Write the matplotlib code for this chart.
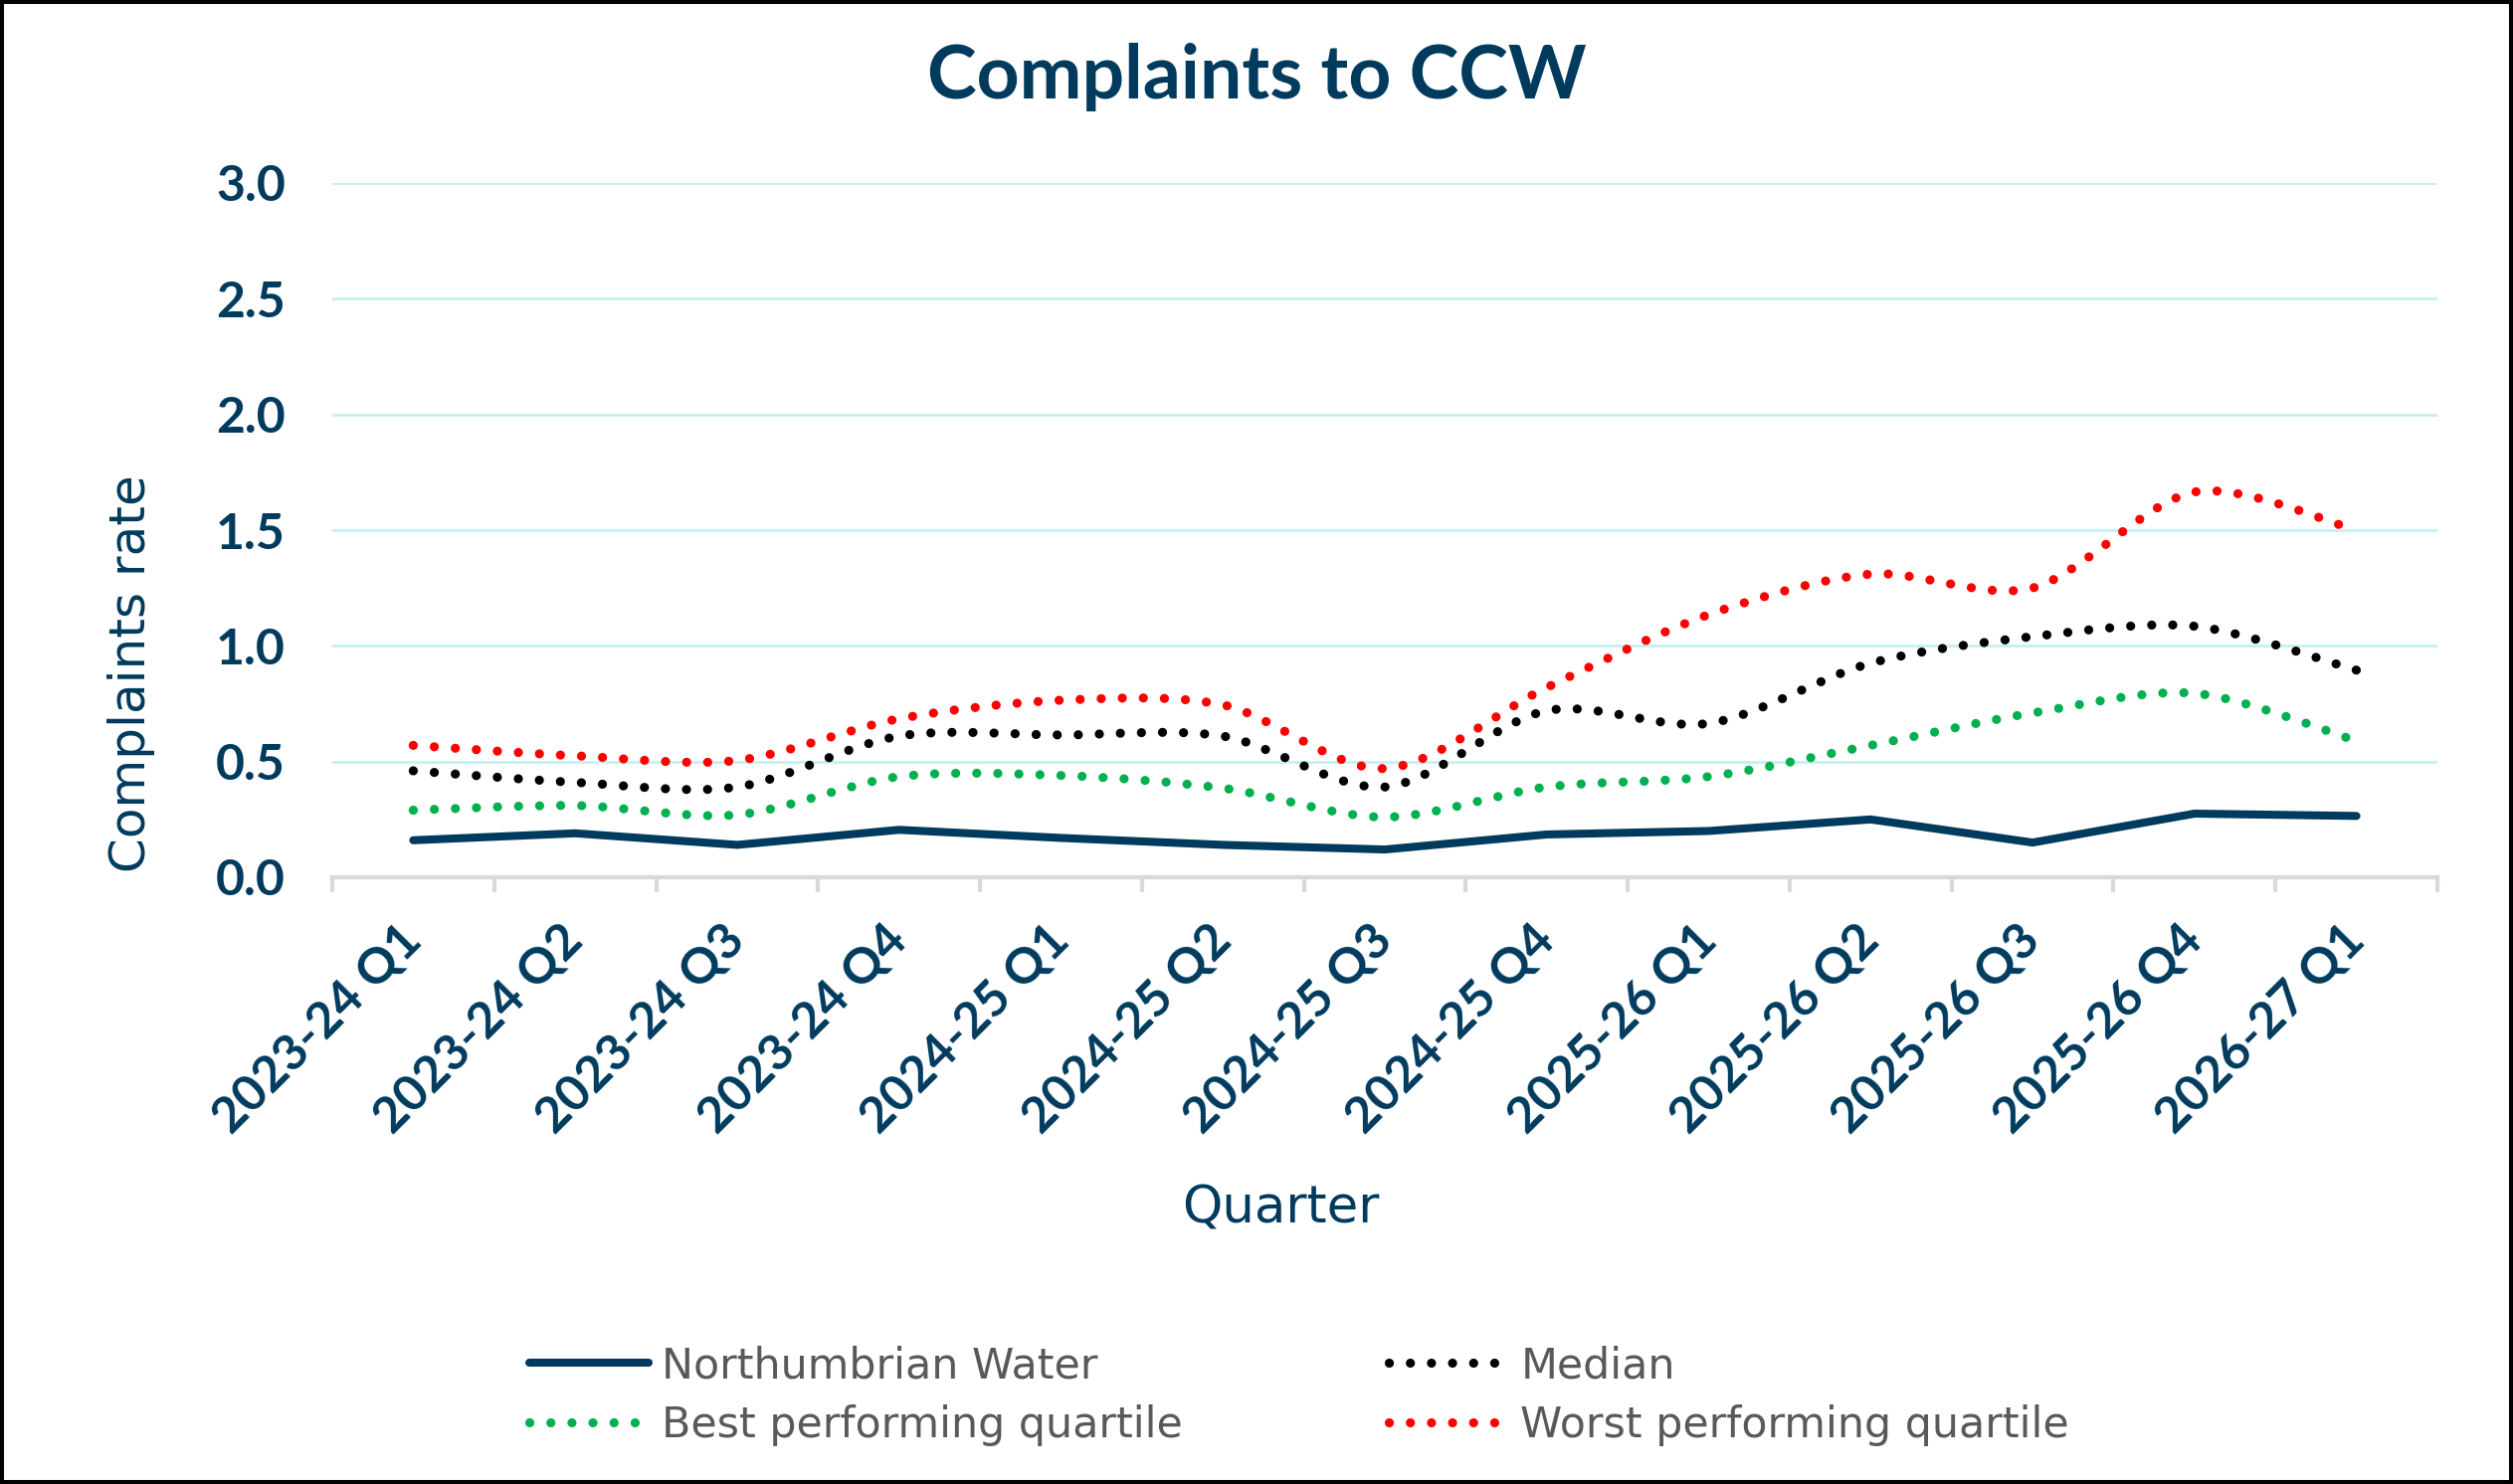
import numpy as np
import matplotlib
matplotlib.use("Agg")
import matplotlib.pyplot as plt
from matplotlib.path import Path
from matplotlib.patches import PathPatch, Rectangle
from matplotlib.lines import Line2D

quarters = ["2023-24 Q1", "2023-24 Q2", "2023-24 Q3", "2023-24 Q4",
            "2024-25 Q1", "2024-25 Q2", "2024-25 Q3", "2024-25 Q4",
            "2025-26 Q1", "2025-26 Q2", "2025-26 Q3", "2025-26 Q4",
            "2026-27 Q1"]
northumbrian = [0.16, 0.19, 0.14, 0.205, 0.17, 0.14, 0.12, 0.185, 0.20, 0.25, 0.15, 0.275, 0.265]
median = [0.46, 0.41, 0.39, 0.61, 0.615, 0.61, 0.39, 0.72, 0.665, 0.925, 1.04, 1.085, 0.895]
best_q = [0.29, 0.31, 0.27, 0.435, 0.44, 0.385, 0.26, 0.39, 0.435, 0.57, 0.71, 0.795, 0.59]
worst_q = [0.57, 0.525, 0.505, 0.685, 0.765, 0.745, 0.47, 0.82, 1.135, 1.31, 1.25, 1.665, 1.50]

NAVY = "#003A5D"
GRID = "#C5F0F2"
AXIS = "#D9D9D9"
DOTS = (0, (0.01, 2.3))


def smooth_path(xs, ys, k=1 / 6):
    # bezier through the points, roughly how Excel draws a smoothed line
    pts = np.column_stack([xs, ys]).astype(float)
    n = len(pts)
    verts = [pts[0]]
    codes = [Path.MOVETO]
    for i in range(n - 1):
        p0 = pts[i - 1] if i > 0 else pts[i]
        p1, p2 = pts[i], pts[i + 1]
        p3 = pts[i + 2] if i + 2 < n else pts[i + 1]
        verts += [p1 + (p2 - p0) * k, p2 - (p3 - p1) * k, p2]
        codes += [Path.CURVE4] * 3
    return Path(verts, codes)


fig = plt.figure(figsize=(12.63, 7.46), dpi=200)
ax = fig.add_axes([334 / 2526, 1 - 882 / 1492, (2450 - 334) / 2526, (882 - 184) / 1492])

x = np.arange(len(quarters))
series = [(median, "black"), (best_q, "#00B050"), (worst_q, "#FF0000")]
for vals, col in series:
    ax.add_patch(PathPatch(smooth_path(x, vals, 0.15), fill=False, edgecolor=col, lw=3.3,
                           linestyle=DOTS, capstyle="round", zorder=3))
ax.plot(x, northumbrian, color=NAVY, lw=2.9, solid_capstyle="round",
        solid_joinstyle="miter", zorder=4)

ax.set_xlim(-0.5, len(quarters) - 0.5)
ax.set_ylim(0, 3.0)
ax.set_yticks(np.arange(0, 3.01, 0.5))
ax.set_yticklabels([f"{v:.1f}" for v in np.arange(0, 3.01, 0.5)])
ax.yaxis.grid(True, color=GRID, lw=1.0, zorder=0)
ax.set_axisbelow(True)
for s in ["top", "right", "left"]:
    ax.spines[s].set_visible(False)
ax.spines["bottom"].set_color(AXIS)
ax.spines["bottom"].set_linewidth(1.5)

ax.set_xticks(x)
ax.set_xticklabels(quarters, rotation=45, ha="right", va="center",
                   rotation_mode="anchor")
ax.set_xticks(np.arange(-0.5, len(quarters)), minor=True)
ax.tick_params(axis="x", which="major", length=0, pad=20, labelsize=18,
               labelcolor=NAVY)
ax.tick_params(axis="x", which="minor", length=5.4, width=1.5, color=AXIS)
ax.tick_params(axis="y", length=0, pad=17, labelsize=18, labelcolor=NAVY)
for lab in ax.get_xticklabels() + ax.get_yticklabels():
    lab.set_fontfamily("Lato")
    lab.set_fontweight("bold")

fig.text(0.5, 1 - 78 / 1492, "Complaints to CCW", ha="center", va="center",
         fontsize=27, fontweight="bold", color=NAVY, family="Lato")
fig.text(132 / 2526, 1 - 677 / 1492, "Complaints rate", rotation=90,
         ha="center", va="center", fontsize=18, color=NAVY)
fig.text(1287 / 2526, 1 - 1215 / 1492, "Quarter", ha="center", va="center",
         fontsize=18.5, color=NAVY)

handles = [
    Line2D([], [], color=NAVY, lw=2.9, solid_capstyle="round"),
    Line2D([], [], color="#00B050", lw=3.3, linestyle=DOTS, dash_capstyle="round"),
    Line2D([], [], color="black", lw=3.3, linestyle=DOTS, dash_capstyle="round"),
    Line2D([], [], color="#FF0000", lw=3.3, linestyle=DOTS, dash_capstyle="round"),
]
labels = ["Northumbrian Water", "Best performing quartile", "Median",
          "Worst performing quartile"]
fig.legend(handles, labels, ncol=2, loc="upper left",
           bbox_to_anchor=(532 / 2526, 1 - 1352 / 1492), frameon=False,
           borderpad=0, borderaxespad=0, handlelength=2.8, handletextpad=0.3,
           columnspacing=4.85, labelspacing=0.42, prop={"size": 15.4},
           labelcolor="#595959")

fig.add_artist(Rectangle((0, 0), 1, 1, transform=fig.transFigure, fill=False,
                         edgecolor="black", lw=2.9, zorder=10))

fig.savefig("out.png", dpi=200)
